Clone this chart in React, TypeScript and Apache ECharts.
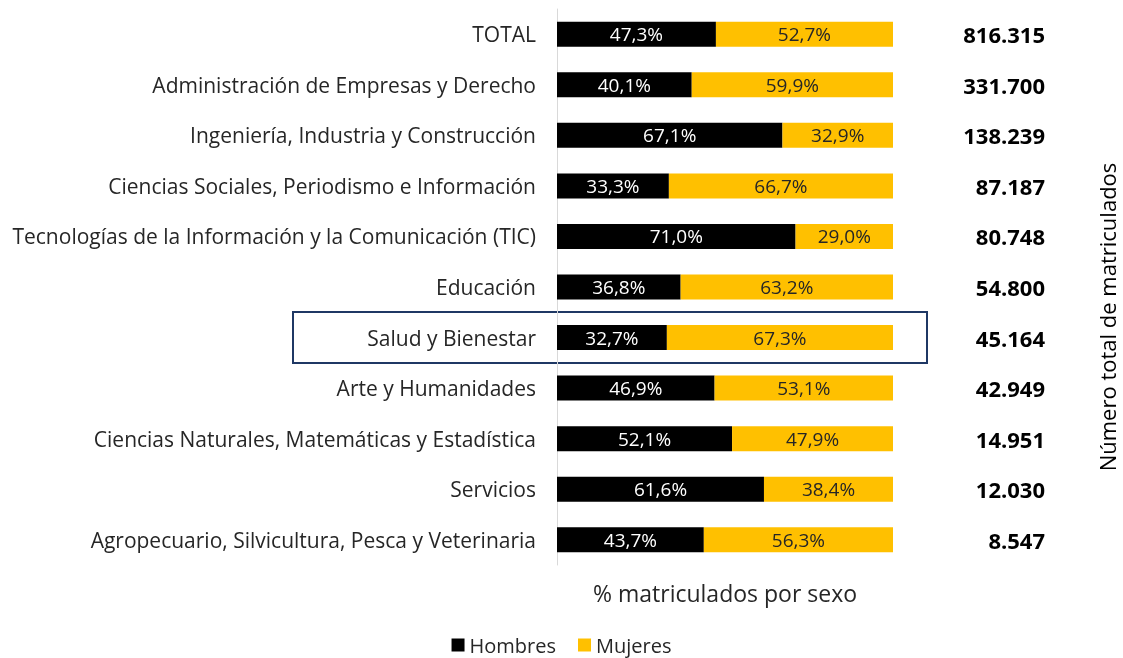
import React, { useEffect, useRef } from "react";
import * as echarts from "echarts";

const categories = [
  "TOTAL",
  "Administración de Empresas y Derecho",
  "Ingeniería, Industria y Construcción",
  "Ciencias Sociales, Periodismo e Información",
  "Tecnologías de la Información y la Comunicación (TIC)",
  "Educación",
  "Salud y Bienestar",
  "Arte y Humanidades",
  "Ciencias Naturales, Matemáticas y Estadística",
  "Servicios",
  "Agropecuario, Silvicultura, Pesca y Veterinaria",
];
const hombres = [47.3, 40.1, 67.1, 33.3, 71.0, 36.8, 32.7, 46.9, 52.1, 61.6, 43.7];
const mujeres = [52.7, 59.9, 32.9, 66.7, 29.0, 63.2, 67.3, 53.1, 47.9, 38.4, 56.3];
const totales = ["816.315", "331.700", "138.239", "87.187", "80.748", "54.800", "45.164", "42.949", "14.951", "12.030", "8.547"];

const FONT = "Open Sans";
const fmt = (v: number) => v.toFixed(1).replace(".", ",") + "%";

export default function App() {
  const ref = useRef<HTMLDivElement>(null);
  useEffect(() => {
    if (!ref.current) return;
    const chart = echarts.init(ref.current, null, { renderer: "svg" });
    chart.setOption({
      animation: false,
      textStyle: { fontFamily: FONT },
      grid: { left: 557, right: 1123 - 893, top: 9, height: 556, containLabel: false },
      xAxis: {
        type: "value",
        min: 0,
        max: 100,
        axisLabel: { show: false },
        axisLine: { show: false },
        axisTick: { show: false },
        splitLine: { show: false },
        name: "% matriculados por sexo",
        nameLocation: "middle",
        nameGap: 16,
        nameTextStyle: { fontFamily: FONT, fontSize: 23, color: "#262626" },
      },
      yAxis: [
        {
          type: "category",
          data: categories,
          inverse: true,
          axisLine: { show: true, lineStyle: { color: "#D9D9D9", width: 1 } },
          axisTick: { show: false },
          axisLabel: { fontFamily: FONT, fontSize: 21, color: "#262626", margin: 21 },
        },
        {
          type: "category",
          data: totales,
          inverse: true,
          position: "right",
          axisLine: { show: false },
          axisTick: { show: false },
          axisLabel: { fontFamily: FONT, fontSize: 22, fontWeight: "bold", color: "#000", align: "right", margin: 152 },
        },
      ],
      legend: {
        top: 635,
        left: "center",
        icon: "rect",
        itemWidth: 13,
        itemHeight: 13,
        itemGap: 22,
        padding: 0,
        textStyle: { fontFamily: FONT, fontSize: 20, color: "#262626", lineHeight: 20 },
        data: ["Hombres", "Mujeres"],
      },
      series: [
        {
          name: "Hombres",
          type: "bar",
          stack: "s",
          data: hombres,
          barWidth: 25,
          itemStyle: { color: "#000000" },
          label: { show: true, position: "inside", color: "#FFFFFF", fontFamily: FONT, fontSize: 19, formatter: (p: any) => fmt(p.value) },
        },
        {
          name: "Mujeres",
          type: "bar",
          stack: "s",
          data: mujeres,
          barWidth: 25,
          itemStyle: { color: "#FFC000" },
          label: { show: true, position: "inside", color: "#262626", fontFamily: FONT, fontSize: 19, formatter: (p: any) => fmt(p.value) },
        },
      ],
      graphic: [
        {
          type: "rect",
          shape: { x: 293, y: 312, width: 634, height: 51 },
          style: { fill: "none", stroke: "#1F3864", lineWidth: 2 },
        },
        {
          type: "text",
          x: 1107,
          y: 317,
          rotation: Math.PI / 2,
          style: {
            text: "Número total de matriculados",
            fontFamily: FONT,
            fontSize: 22,
            fill: "#000",
            align: "center",
            verticalAlign: "middle",
          },
        },
      ],
    });
    return () => chart.dispose();
  }, []);
  return <div ref={ref} style={{ position: "fixed", left: 0, top: 0, width: 1123, height: 658 }} />;
}
